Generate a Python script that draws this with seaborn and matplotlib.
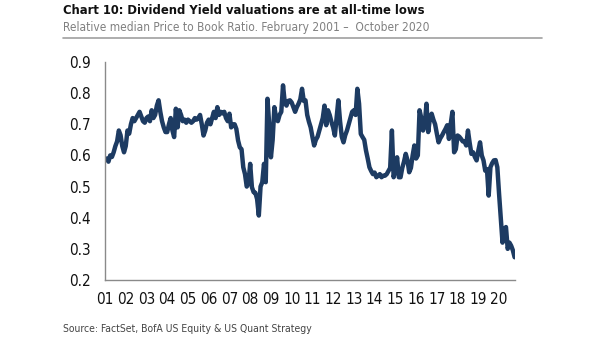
import numpy as np
import pandas as pd
import matplotlib
matplotlib.use("Agg")
import matplotlib.pyplot as plt
import seaborn as sns
from matplotlib.lines import Line2D
from matplotlib import font_manager as fm

# Monthly values, Feb 2001 - Oct 2020
y2001 = [0.59, 0.58, 0.60, 0.595, 0.61, 0.63, 0.645, 0.68, 0.665, 0.63, 0.61]
y2002 = [0.63, 0.68, 0.67, 0.70, 0.72, 0.71, 0.72, 0.73, 0.74, 0.725, 0.71, 0.705]
y2003 = [0.72, 0.725, 0.71, 0.745, 0.72, 0.73, 0.76, 0.777, 0.74, 0.71, 0.69, 0.675]
y2004 = [0.675, 0.70, 0.72, 0.68, 0.659, 0.75, 0.69, 0.745, 0.73, 0.71, 0.715, 0.705]
y2005 = [0.715, 0.71, 0.705, 0.71, 0.72, 0.715, 0.72, 0.73, 0.70, 0.664, 0.68, 0.705]
y2006 = [0.715, 0.70, 0.72, 0.74, 0.72, 0.755, 0.73, 0.74, 0.735, 0.74, 0.72, 0.71]
y2007 = [0.734, 0.69, 0.70, 0.70, 0.685, 0.648, 0.626, 0.62, 0.562, 0.54, 0.50, 0.51]
y2008 = [0.573, 0.498, 0.482, 0.48, 0.46, 0.407, 0.50, 0.514, 0.573, 0.514, 0.782, 0.70]
y2009 = [0.594, 0.65, 0.755, 0.72, 0.71, 0.73, 0.74, 0.825, 0.77, 0.76, 0.775, 0.777]
y2010 = [0.77, 0.755, 0.74, 0.755, 0.766, 0.78, 0.814, 0.775, 0.777, 0.73, 0.708, 0.69]
y2011 = [0.66, 0.632, 0.65, 0.66, 0.68, 0.70, 0.72, 0.76, 0.697, 0.745, 0.73, 0.708]
y2012 = [0.69, 0.664, 0.72, 0.777, 0.71, 0.66, 0.642, 0.665, 0.68, 0.70, 0.72, 0.74]
y2013 = [0.745, 0.73, 0.814, 0.766, 0.669, 0.659, 0.65, 0.616, 0.59, 0.562, 0.55, 0.54]
y2014 = [0.545, 0.53, 0.535, 0.54, 0.53, 0.535, 0.535, 0.54, 0.55, 0.56, 0.68, 0.53]
y2015 = [0.555, 0.594, 0.53, 0.53, 0.56, 0.58, 0.605, 0.585, 0.546, 0.56, 0.60, 0.632]
y2016 = [0.59, 0.60, 0.745, 0.72, 0.68, 0.70, 0.766, 0.675, 0.72, 0.734, 0.715, 0.70]
y2017 = [0.67, 0.642, 0.655, 0.664, 0.675, 0.685, 0.697, 0.653, 0.70, 0.74, 0.61, 0.62]
y2018 = [0.664, 0.66, 0.653, 0.645, 0.645, 0.632, 0.68, 0.64, 0.605, 0.61, 0.595, 0.584]
y2019 = [0.615, 0.642, 0.60, 0.584, 0.551, 0.556, 0.471, 0.562, 0.575, 0.584, 0.585, 0.562]
y2020 = [0.477, 0.40, 0.32, 0.364, 0.37, 0.30, 0.32, 0.31, 0.295, 0.273]

values = (y2001 + y2002 + y2003 + y2004 + y2005 + y2006 + y2007 + y2008 + y2009 +
          y2010 + y2011 + y2012 + y2013 + y2014 + y2015 + y2016 + y2017 + y2018 +
          y2019 + y2020)
dates = pd.date_range("2001-02-01", periods=len(values), freq="MS")
year_labels = ["01", "02", "03", "04", "05", "06", "07", "08", "09", "10",
               "11", "12", "13", "14", "15", "16", "17", "18", "19", "20"]
y_ticks = [0.2, 0.3, 0.4, 0.5, 0.6, 0.7, 0.8, 0.9]

title = "Chart 10: Dividend Yield valuations are at all-time lows"
subtitle = "Relative median Price to Book Ratio. February 2001 \u2013  October 2020"
source = "Source: FactSet, BofA US Equity & US Quant Strategy"

df = pd.DataFrame({"t": dates.year + (dates.month - 1) / 12.0, "v": values})

sns.set_theme(style="white")


def find_font(bold):
    cands = []
    for f in fm.fontManager.ttflist:
        nm = f.name.lower()
        fn = f.fname.lower()
        if "serif" in nm.replace("sans", "") or "serif" in fn.replace("sans", "") \
                or "mono" in nm or "mono" in fn:
            continue
        st = str(f.stretch).lower()
        narrow = ("narrow" in nm or "condensed" in nm or "condensed" in st
                  or "narrow" in fn or "condensed" in fn
                  or (isinstance(f.stretch, int) and f.stretch < 500))
        if not narrow or f.style != "normal":
            continue
        w = f.weight if isinstance(f.weight, int) else (700 if "bold" in str(f.weight) else 400)
        if bold and w < 600:
            continue
        if not bold and w >= 600:
            continue
        if "liberation" in nm:
            score = 3
        elif "dejavu" in nm:
            score = 2
        else:
            score = 1
        cands.append((score, -abs(w - (700 if bold else 400)), f.fname))
    if not cands:
        return None
    cands.sort(reverse=True)
    return cands[0][2]


reg_file = find_font(False)
bold_file = find_font(True)
reg_fp = fm.FontProperties(fname=reg_file) if reg_file else fm.FontProperties(family="Liberation Sans")
bold_fp = (fm.FontProperties(fname=bold_file) if bold_file
           else fm.FontProperties(family="Liberation Sans", weight="bold"))

fig = plt.figure(figsize=(6.05, 3.41), dpi=100)
ax = fig.add_axes([105 / 605, 1 - 280 / 341, (515 - 105) / 605, (280 - 62) / 341])

sns.lineplot(data=df, x="t", y="v", ax=ax, color="#1d3b62", linewidth=3.2,
             solid_joinstyle="round", solid_capstyle="round")

ax.set_xlim(2001.0, 2001 + (515 - 105) / 20.74)
ax.set_ylim(0.2, 0.9)
ax.set_xticks([2001 + i for i in range(len(year_labels))])
ax.set_xticklabels(year_labels)
ax.set_yticks(y_ticks)
ax.set_yticklabels([f"{t:.1f}" for t in y_ticks])
ax.set_xlabel("")
ax.set_ylabel("")
for s in ["top", "right"]:
    ax.spines[s].set_visible(False)
for s in ["left", "bottom"]:
    ax.spines[s].set_color("#8a8a8a")
    ax.spines[s].set_linewidth(1.0)
tick_size = 11 if reg_file else 9.5
ax.tick_params(axis="both", which="major", direction="out", length=4, width=1,
               color="#8a8a8a", labelcolor="#111111")
ax.tick_params(axis="y", pad=6)
ax.tick_params(axis="x", pad=5)
for lab in ax.get_xticklabels() + ax.get_yticklabels():
    lab.set_fontproperties(reg_fp)
    lab.set_fontsize(tick_size)
ax.grid(False)

renderer = fig.canvas.get_renderer()


def fit_text(x, y, s, fp, width_px, base, color):
    t = fig.text(x / 605, 1 - y / 341, s, fontproperties=fp, color=color,
                 va="center", ha="left")
    t.set_fontsize(base)
    w = t.get_window_extent(renderer).width
    t.set_fontsize(min(base * width_px / w, 13))
    return t


fit_text(63, 10, title, bold_fp, 362, 12, "#111111")
fit_text(63, 28, subtitle, reg_fp, 365, 11, "#808080")
fig.add_artist(Line2D([63 / 605, 542 / 605], [1 - 38 / 341, 1 - 38 / 341],
                      color="#a0a0a0", linewidth=1.2, transform=fig.transFigure))
fit_text(63, 329, source, reg_fp, 250, 9.5, "#444444")

fig.savefig("out.png", dpi=100)
